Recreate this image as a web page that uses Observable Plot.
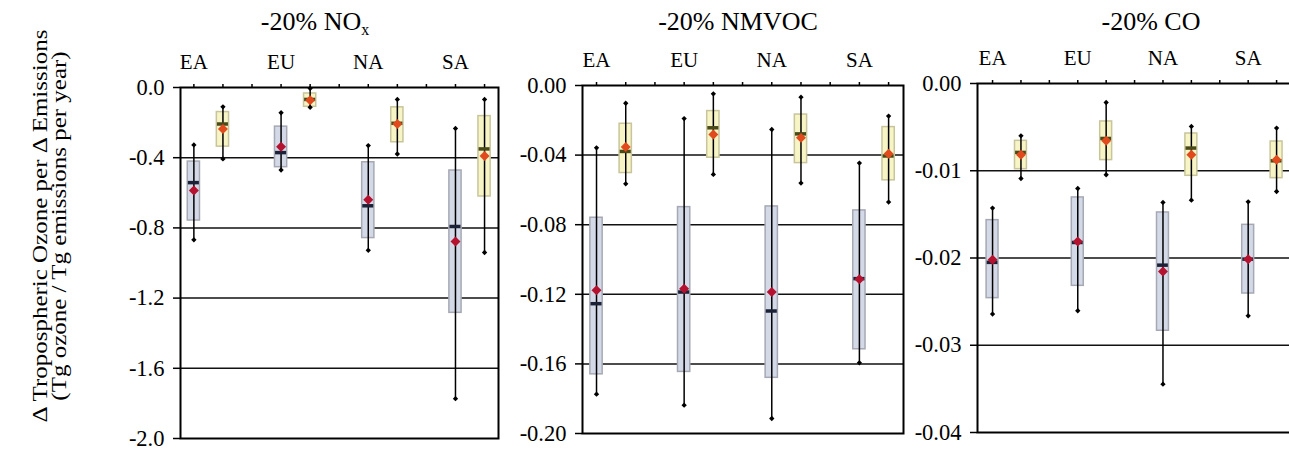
<!DOCTYPE html>
<html>
<head>
<meta charset="utf-8">
<script src="https://cdn.jsdelivr.net/npm/d3@7"></script>
<script src="https://cdn.jsdelivr.net/npm/@observablehq/plot@0.6"></script>
<style>
  html, body { margin: 0; padding: 0; background: #fff; }
  #chart { position: relative; width: 1289px; height: 472px; overflow: hidden; background: #fff;
           font-family: "Liberation Serif", "Times New Roman", serif; color: #000; }
  .panel { position: absolute; top: 0; }
  .title { position: absolute; top: 9px; font-size: 26px; line-height: 25px; white-space: nowrap; transform: translateX(-50%); }
  .title sub { font-size: 16px; line-height: 0; vertical-align: baseline; position: relative; top: 5px; }
  .ylabel { position: absolute; width: 470px; left: -185px; top: 207px; height: 38px; font-size: 21px; line-height: 19px;
            text-align: center; white-space: nowrap; transform: rotate(-90deg) scaleX(1.19); transform-origin: 50% 50%; }
</style>
</head>
<body>
<div id="chart"></div>
<script>
// ---------------- data ----------------
const regions = ["EA", "EU", "NA", "SA"];
const seriesNames = ["blue", "yellow"];
// value order in every array: EA-blue, EA-yellow, EU-blue, EU-yellow, NA-blue, NA-yellow, SA-blue, SA-yellow

// -20% NOx
const noxWhiskerTop    = [-0.327, -0.110, -0.144, -0.005, -0.331, -0.068, -0.233, -0.068];
const noxBoxTop        = [-0.422, -0.140, -0.223, -0.034, -0.426, -0.113, -0.473, -0.163];
const noxMedian        = [-0.542, -0.208, -0.371, -0.068, -0.674, -0.204, -0.792, -0.350];
const noxMean          = [-0.587, -0.237, -0.337, -0.072, -0.640, -0.208, -0.877, -0.390];
const noxBoxBottom     = [-0.758, -0.337, -0.454, -0.110, -0.858, -0.312, -1.284, -0.621];
const noxWhiskerBottom = [-0.868, -0.407, -0.470, -0.113, -0.928, -0.379, -1.773, -0.940];
const noxTicks      = [0, -0.4, -0.8, -1.2, -1.6, -2.0];
const noxTickLabels = ["0.0", "-0.4", "-0.8", "-1.2", "-1.6", "-2.0"];

// -20% NMVOC
const vocWhiskerTop    = [-0.0358, -0.0102, -0.0190, -0.0048, -0.0253, -0.0067, -0.0446, -0.0176];
const vocBoxTop        = [-0.0760, -0.0220, -0.0699, -0.0147, -0.0695, -0.0167, -0.0718, -0.0239];
const vocMedian        = [-0.1254, -0.0379, -0.1187, -0.0243, -0.1296, -0.0278, -0.1110, -0.0405];
const vocMean          = [-0.1177, -0.0354, -0.1168, -0.0281, -0.1187, -0.0301, -0.1114, -0.0392];
const vocBoxBottom     = [-0.1660, -0.0503, -0.1646, -0.0415, -0.1680, -0.0446, -0.1516, -0.0545];
const vocWhiskerBottom = [-0.1774, -0.0565, -0.1837, -0.0511, -0.1914, -0.0561, -0.1594, -0.0670];
const vocTicks      = [0, -0.04, -0.08, -0.12, -0.16, -0.20];
const vocTickLabels = ["0.00", "-0.04", "-0.08", "-0.12", "-0.16", "-0.20"];

// -20% CO
const coWhiskerTop    = [-0.01428, -0.00600, -0.01203, -0.00218, -0.01363, -0.00492, -0.01356, -0.00511];
const coBoxTop        = [-0.01566, -0.00657, -0.01306, -0.00435, -0.01478, -0.00573, -0.01620, -0.00665];
const coMedian        = [-0.02050, -0.00790, -0.01822, -0.00630, -0.02082, -0.00740, -0.02013, -0.00886];
const coMean          = [-0.02020, -0.00817, -0.01810, -0.00657, -0.02154, -0.00817, -0.02013, -0.00875];
const coBoxBottom     = [-0.02460, -0.00982, -0.02319, -0.00878, -0.02834, -0.01058, -0.02407, -0.01085];
const coWhiskerBottom = [-0.02643, -0.01089, -0.02605, -0.01046, -0.03446, -0.01337, -0.02663, -0.01238];
const coTicks      = [0, -0.01, -0.02, -0.03, -0.04];
const coTickLabels = ["0.00", "-0.01", "-0.02", "-0.03", "-0.04"];

// ---------------- styles ----------------
const FONT = "'Liberation Serif', 'Times New Roman', serif";
const seriesStyle = {
  blue:   {boxFill: "#d4d9e8", boxStroke: "#a6a9b4", median: "#1b2238", mean: "#b5122f"},
  yellow: {boxFill: "#f7f4c6", boxStroke: "#c8c59c", median: "#484a18", mean: "#e04a1c"}
};

function buildRows(wt, bt, med, mean, bb, wb) {
  return wt.map((_, i) => ({
    region: regions[i >> 1],
    series: seriesNames[i % 2],
    slot: (i >> 1) * 3 + (i % 2),
    whiskerTop: wt[i], boxTop: bt[i], median: med[i], mean: mean[i], boxBottom: bb[i], whiskerBottom: wb[i]
  }));
}

function makePanel(cfg) {
  const {rows, ticks, tickLabels, xDomain, left, width, mL, mR, mT, mB} = cfg;
  const yMin = Math.min(...ticks);
  const interior = ticks.filter(t => t !== 0 && t !== yMin);
  const slotTicks = d3.range(0, 11);
  const fmt = d => tickLabels[ticks.indexOf(d)] ?? "";
  const marks = [
    Plot.ruleY(interior, {stroke: "#111", strokeWidth: 1.5})
  ];
  for (const s of seriesNames) {
    const st = seriesStyle[s];
    const data = rows.filter(r => r.series === s);
    marks.push(
      Plot.rect(data, {x1: d => d.slot - 0.21, x2: d => d.slot + 0.21, y1: "boxTop", y2: "boxBottom",
                       fill: st.boxFill, stroke: st.boxStroke, strokeWidth: 1.5}),
      Plot.ruleX(data, {x: "slot", y1: "whiskerTop", y2: "whiskerBottom", stroke: "#000", strokeWidth: 1.5}),
      Plot.dot(data, {x: "slot", y: "whiskerTop", symbol: "diamond2", r: 2.4, fill: "#000", stroke: null}),
      Plot.dot(data, {x: "slot", y: "whiskerBottom", symbol: "diamond2", r: 2.4, fill: "#000", stroke: null}),
      Plot.ruleY(data, {y: "median", x1: d => d.slot - 0.19, x2: d => d.slot + 0.19, stroke: st.median, strokeWidth: 3.5}),
      Plot.dot(data, {x: "slot", y: "mean", symbol: "diamond2", r: 4.5, fill: st.mean, stroke: null})
    );
  }
  marks.push(
    Plot.frame({stroke: "#000", strokeWidth: 2}),
    Plot.axisY({ticks, tickFormat: fmt, tickSize: 7, tickPadding: 9, strokeWidth: 1.5,
                fontSize: 22.5, label: null, fill: "#000"}),
    Plot.axisX({anchor: "top", ticks: slotTicks, tickSize: 4, tickFormat: () => "", strokeWidth: 1.5, label: null}),
    Plot.text(regions, {x: (d, i) => i * 3, text: d => d, frameAnchor: "top", lineAnchor: "middle",
                        dy: -25, fontSize: 21, fill: "#000"})
  );
  const svg = Plot.plot({
    width, height: 472,
    marginLeft: mL, marginRight: mR, marginTop: mT, marginBottom: mB,
    x: {domain: xDomain},
    y: {domain: [yMin, 0]},
    style: {background: "transparent", overflow: "visible", maxWidth: "none", fontFamily: FONT, color: "#000"},
    marks
  });
  svg.classList.add("panel");
  svg.style.left = left + "px";
  return svg;
}

const chart = document.getElementById("chart");

chart.appendChild(makePanel({
  rows: buildRows(noxWhiskerTop, noxBoxTop, noxMedian, noxMean, noxBoxBottom, noxWhiskerBottom),
  ticks: noxTicks, tickLabels: noxTickLabels, xDomain: [-0.46, 10.48],
  left: 100, width: 410, mL: 80, mR: 12, mT: 87, mB: 34
}));
chart.appendChild(makePanel({
  rows: buildRows(vocWhiskerTop, vocBoxTop, vocMedian, vocMean, vocBoxBottom, vocWhiskerBottom),
  ticks: vocTicks, tickLabels: vocTickLabels, xDomain: [-0.48, 10.51],
  left: 505, width: 410, mL: 77, mR: 12, mT: 85, mB: 39
}));
chart.appendChild(makePanel({
  rows: buildRows(coWhiskerTop, coBoxTop, coMedian, coMean, coBoxBottom, coWhiskerBottom),
  ticks: coTicks, tickLabels: coTickLabels, xDomain: [-0.53, 10.49],
  left: 900, width: 395, mL: 77, mR: 5, mT: 83, mB: 40
}));

// titles and shared y label (HTML text around the SVGs)
const titles = [
  {x: 315, html: "-20% NO<sub>x</sub>"},
  {x: 738, html: "-20% NMVOC"},
  {x: 1151, html: "-20% CO"}
];
for (const t of titles) {
  const div = document.createElement("div");
  div.className = "title";
  div.style.left = t.x + "px";
  div.innerHTML = t.html;
  chart.appendChild(div);
}
const yl = document.createElement("div");
yl.className = "ylabel";
yl.innerHTML = "Δ Tropospheric Ozone per Δ Emissions<br>(Tg ozone / Tg emissions per year)";
chart.appendChild(yl);
</script>
</body>
</html>
